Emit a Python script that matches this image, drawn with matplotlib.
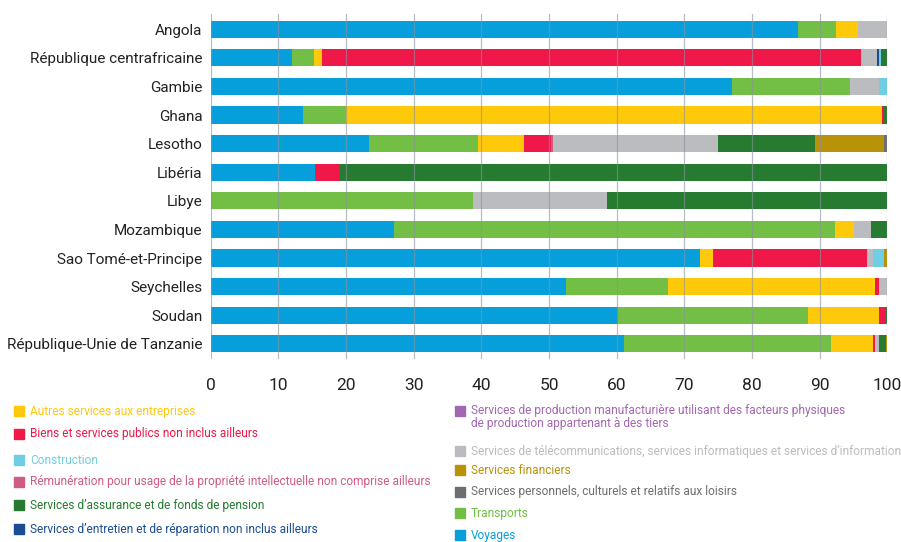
import matplotlib.pyplot as plt
from matplotlib.patches import Rectangle

plt.rcParams['font.family'] = ['Roboto', 'DejaVu Sans']

# Pays, de haut en bas
countries = ["Angola", "République centrafricaine", "Gambie", "Ghana", "Lesotho",
             "Libéria", "Libye", "Mozambique", "Sao Tomé-et-Principe", "Seychelles",
             "Soudan", "République-Unie de Tanzanie"]

# Parts (%) par catégorie de services, dans l'ordre des pays
voyages = [86.8, 12.0, 77.0, 13.6, 23.4, 15.4, 0.0, 27.1, 72.3, 52.5, 60.1, 61.0]
transports = [5.6, 3.2, 17.5, 6.4, 16.1, 0.0, 38.7, 65.1, 0.0, 15.0, 28.2, 30.6]
autres = [3.2, 1.2, 0.0, 79.2, 6.8, 0.0, 0.0, 2.8, 1.9, 30.6, 10.4, 6.2]
biens_publics = [0.0, 79.7, 0.0, 0.2, 4.0, 3.7, 0.0, 0.0, 22.7, 0.6, 1.1, 0.3]
remuneration = [0.0, 0.0, 0.0, 0.0, 0.2, 0.0, 0.0, 0.0, 0.0, 0.1, 0.0, 0.0]
telecom = [4.3, 2.4, 4.2, 0.0, 24.4, 0.0, 19.9, 2.5, 1.0, 1.2, 0.0, 0.6]
entretien = [0.0, 0.2, 0.0, 0.0, 0.0, 0.0, 0.0, 0.0, 0.0, 0.0, 0.0, 0.0]
construction = [0.0, 0.4, 1.2, 0.0, 0.0, 0.0, 0.0, 0.0, 1.6, 0.0, 0.0, 0.0]
assurance = [0.0, 0.8, 0.1, 0.6, 14.4, 80.9, 41.4, 2.4, 0.0, 0.0, 0.2, 1.1]
financiers = [0.0, 0.1, 0.0, 0.0, 10.2, 0.0, 0.0, 0.1, 0.5, 0.0, 0.0, 0.1]
personnels = [0.0, 0.0, 0.0, 0.0, 0.5, 0.0, 0.0, 0.0, 0.0, 0.0, 0.0, 0.2]
manufacture = [0.1, 0.0, 0.0, 0.0, 0.0, 0.0, 0.0, 0.0, 0.0, 0.0, 0.0, 0.0]

# ordre d'empilement
stack = [
    ("Voyages", voyages, '#069FDB'),
    ("Transports", transports, '#73BF45'),
    ("Autres services aux entreprises", autres, '#FFC90B'),
    ("Biens et services publics non inclus ailleurs", biens_publics, '#EF1848'),
    ("Rémunération pour usage de la propriété intellectuelle non comprise ailleurs", remuneration, '#CF5C84'),
    ("Services de télécommunications, services informatiques et services d\u2019information", telecom, '#BBBCBF'),
    ("Services d\u2019entretien et de réparation non inclus ailleurs", entretien, '#1B4C93'),
    ("Construction", construction, '#6FCDE4'),
    ("Services d\u2019assurance et de fonds de pension", assurance, '#267B30'),
    ("Services financiers", financiers, '#B8930A'),
    ("Services personnels, culturels et relatifs aux loisirs", personnels, '#6D6E71'),
    ("Services de production manufacturière utilisant des facteurs physiques\nde production appartenant à des tiers", manufacture, '#A267B0'),
]

fig = plt.figure(figsize=(9.01, 5.42), dpi=100)
ax = fig.add_axes([0.234, 0.3376, 0.751, 0.6365])

y = list(range(len(countries)))
left = [0.0] * len(countries)
for name, vals, col in stack:
    ax.barh(y, vals, left=left, height=0.6, color=col, edgecolor='none', zorder=2)
    left = [a + b for a, b in zip(left, vals)]

ax.set_xlim(0, 100)
ax.set_ylim(11.53, -0.53)
ax.set_xticks(range(0, 101, 10))
ax.set_yticks(y)
ax.set_yticklabels(countries, fontsize=11, color='#222222')
ax.tick_params(axis='x', labelsize=12.5, length=0, pad=14, colors='#222222')
ax.tick_params(axis='y', length=0, pad=6)
ax.xaxis.grid(True, color='#8a929c', linewidth=0.9, alpha=0.6, zorder=3)
ax.set_axisbelow(False)
for s in ax.spines.values():
    s.set_visible(False)

# légende manuelle en deux colonnes (positions en pixels depuis le haut)
legend_left = [2, 3, 7, 4, 8, 6]
legend_left_y = [411, 434, 460, 482, 505, 529]
legend_right = [11, 5, 9, 10, 1, 0]
legend_right_y = [411, 451, 470, 492, 513, 535]

W, H = 901.0, 542.0
def put(idx, xpx, ypx):
    name, vals, col = stack[idx]
    fig.patches.append(Rectangle((xpx / W, 1 - (ypx + 5) / H), 10 / W, 10 / H,
                                 transform=fig.transFigure, color=col))
    fig.text((xpx + 16) / W, 1 - ypx / H, name, color=col, fontsize=8.6,
             va='center', ha='left', linespacing=1.0)

for idx, yp in zip(legend_left, legend_left_y):
    put(idx, 14, yp)
for idx, yp in zip(legend_right, legend_right_y):
    if '\n' in stack[idx][0]:
        # texte sur deux lignes : centré entre les deux lignes
        name, vals, col = stack[idx]
        fig.patches.append(Rectangle((455 / W, 1 - (yp + 5) / H), 10 / W, 10 / H,
                                     transform=fig.transFigure, color=col))
        fig.text(471 / W, 1 - (yp - 7) / H, name, color=col, fontsize=8.6,
                 va='top', ha='left', linespacing=1.05)
    else:
        put(idx, 455, yp)

fig.savefig('out.png', dpi=100)
